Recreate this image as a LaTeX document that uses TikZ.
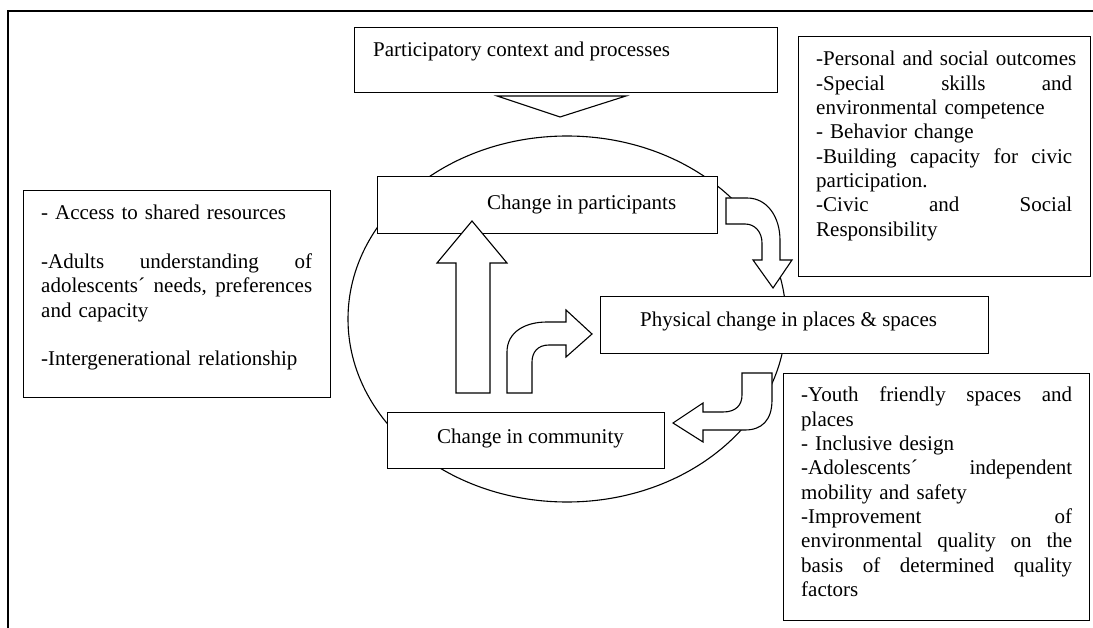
\documentclass[tikz,border=0pt]{standalone}
\usepackage{fontspec}
\setmainfont{Liberation Serif}
\newcommand\jline[2]{\leavevmode\hbox to #1{#2}}
\begin{document}
\begin{tikzpicture}[x=1pt,y=-1pt,
  box/.style={draw, line width=1.1pt, fill=white, inner sep=0, anchor=north west},
  blockarrow/.style={draw, line width=1.1pt, fill=white, line join=miter},
  lbl/.style={inner sep=0, font=\fontsize{21}{24.3}\selectfont, anchor=base west},
  para/.style={lbl, text width=#1, align=left},
]
\useasboundingbox (0,0) rectangle (1093,628);
% outer frame (top and left sides visible)
\draw[line width=1.5pt] (1093,11) -- (8,11) -- (8,628);

% central ellipse
\draw[line width=1.1pt] (567,319) ellipse [x radius=219, y radius=183];

% boxes
\node[box, minimum width=423, minimum height=65] (ctx) at (354,27) {};
\node[box, minimum width=340, minimum height=57] (cp) at (377,176) {};
\node[box, minimum width=388, minimum height=57] (pc) at (600,296) {};
\node[box, minimum width=277, minimum height=56] (cc) at (387,412) {};
\node[box, minimum width=292, minimum height=240] (ro) at (798,36) {};
\node[box, minimum width=306, minimum height=247] (rb) at (783,373) {};
\node[box, minimum width=307, minimum height=207] (lb) at (23,190) {};

% block arrows
\draw[blockarrow] (497,96) -- (626,96) -- (560,117) -- cycle;
\draw[blockarrow] (456,393) -- (456,263) -- (437,263) -- (472,221) -- (507,263) -- (490,263) -- (490,393) -- cycle;
\draw[blockarrow] (507,393) -- (507,352) .. controls (507,332) and (525,322) .. (547,322) -- (566,322) -- (566,310) -- (592,334) -- (566,357) -- (566,345) -- (549,345) .. controls (538,345) and (532,352) .. (532,362) -- (532,393) -- cycle;
\draw[blockarrow] (726,198) -- (747,198) .. controls (768,198) and (780,218) .. (780,240) -- (780,260) -- (792,260) -- (773,288) -- (753,260) -- (762,260) -- (762,243) .. controls (762,232) and (755,224) .. (745,224) -- (726,224) -- cycle;
\draw[blockarrow] (742,373) -- (772,373) -- (772,400) .. controls (772,420) and (762,430) .. (745,430) -- (703,430) -- (703,442) -- (673,423) -- (703,403) -- (703,412) -- (723,412) .. controls (736,412) and (742,405) .. (742,395) -- cycle;

% texts
\node[lbl] (tctx) at (373,57) {Participatory context and processes};
\node[lbl] (tcp) at (487,210) {Change in participants};
\node[lbl] (tpc) at (640,327) {Physical change in places \& spaces};
\node[lbl] (tcc) at (437,443) {Change in community};

\node[para=260] (tro) at (816,66) {%
\mbox{-Personal and social outcomes}\\
\jline{256pt}{-Special\hfill skills\hfill and}\\
\mbox{environmental competence}\\
\mbox{- Behavior change}\\
\jline{256pt}{-Building\hfill capacity\hfill for\hfill civic}\\
\mbox{participation.}\\
\jline{256pt}{-Civic\hfill and\hfill Social}\\
\mbox{Responsibility}};

\node[para=275] (trb) at (801,402) {%
\jline{271pt}{-Youth\hfill friendly\hfill spaces\hfill and}\\
\mbox{places}\\
\mbox{- Inclusive design}\\
\jline{271pt}{-Adolescents´\hfill independent}\\
\mbox{mobility and safety}\\
\jline{271pt}{-Improvement\hfill of}\\
\jline{271pt}{environmental\hfill quality\hfill on\hfill the}\\
\jline{271pt}{basis\hfill of\hfill determined\hfill quality}\\
\mbox{factors}};

\node[para=275] (tlb) at (41,220) {%
\mbox{- Access to shared resources}\\
\mbox{}\\
\jline{271pt}{-Adults\hfill understanding\hfill of}\\
\jline{271pt}{adolescents´\hfill needs,\hfill preferences}\\
\mbox{and capacity}\\
\mbox{}\\
\mbox{-Intergenerational relationship}};
\end{tikzpicture}
\end{document}
